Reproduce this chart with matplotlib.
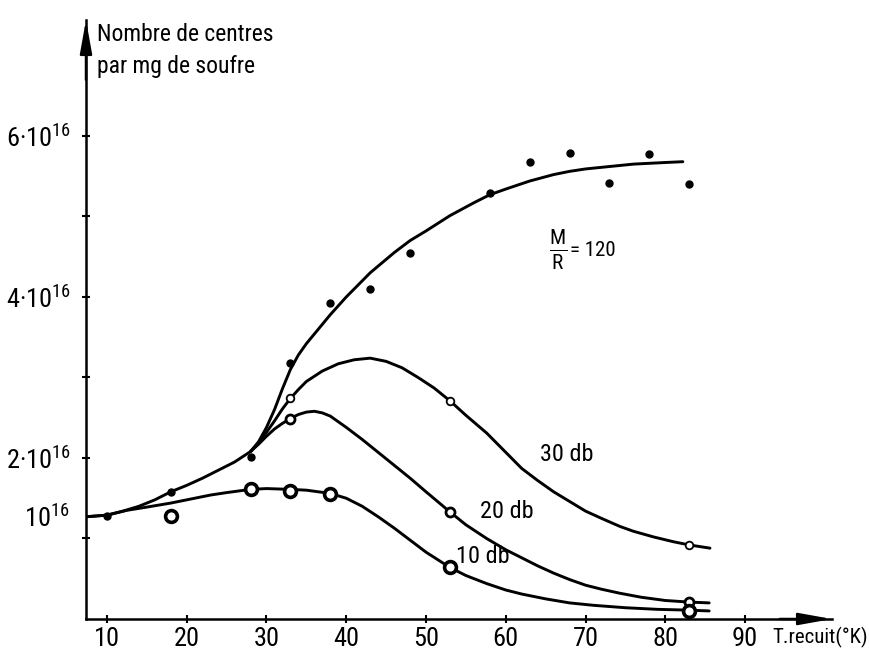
import matplotlib
matplotlib.use('Agg')
import matplotlib.pyplot as plt
from matplotlib import font_manager as fm

# ---- choose a condensed sans font if one is installed ----
_fonts = fm.fontManager.ttflist
_names = {f.name for f in _fonts}
FAMILY, STRETCH, NARROW = 'Liberation Sans', 'normal', False
for cand in ['Liberation Sans Narrow', 'Roboto Condensed', 'Open Sans Condensed',
             'Noto Sans Condensed', 'DejaVu Sans Condensed']:
    if cand in _names:
        FAMILY, NARROW = cand, True
        break
if not NARROW:
    for f in _fonts:
        if str(f.stretch) in ('condensed', 'semi-condensed', 'extra-condensed') and \
                'Sans' in f.name and 'Mono' not in f.name and 'CJK' not in f.name:
            FAMILY, STRETCH, NARROW = f.name, f.stretch, True
            break
if FAMILY not in _names:
    FAMILY = 'DejaVu Sans'

plt.rcParams['font.family'] = [FAMILY, 'DejaVu Sans']
plt.rcParams['font.stretch'] = STRETCH
plt.rcParams['mathtext.fontset'] = 'custom'
_spec = FAMILY if STRETCH == 'normal' else f'{FAMILY}:stretch={STRETCH}'
plt.rcParams['mathtext.rm'] = _spec
plt.rcParams['mathtext.it'] = _spec
plt.rcParams['mathtext.bf'] = _spec

if NARROW:
    FS_TICK, FS_TITLE, FS_XLAB, FS_DB, FS_EQ, FS_FRAC = 19, 17, 15, 17.5, 15, 22
else:
    FS_TICK, FS_TITLE, FS_XLAB, FS_DB, FS_EQ, FS_FRAC = 15.5, 15, 12.5, 15, 13, 20

# ---- data (centres per mg of sulphur, in units of 1e16) ----
# measured points
t_mr120 = [10, 18, 28, 33, 38, 43, 48, 58, 63, 68, 73, 78, 83]
n_mr120 = [1.28, 1.58, 2.01, 3.18, 3.93, 4.10, 4.55, 5.29, 5.68, 5.79, 5.42, 5.77, 5.40]
t_30db = [33, 53, 83]
n_30db = [2.75, 2.71, 0.92]
t_20db = [33, 53, 83]
n_20db = [2.49, 1.33, 0.21]
t_10db = [18, 28, 33, 38, 53, 83]
n_10db = [1.28, 1.62, 1.59, 1.55, 0.65, 0.10]

# hand-drawn curves
curve_mr120_t = [7.4, 10, 12, 14, 16, 18, 20, 22, 24, 26, 28, 29, 30, 31, 32, 33, 34, 35, 36, 38,
                 40, 43, 46, 48, 50, 53, 56, 58, 60, 63, 66, 68, 70, 73, 76, 78, 80, 82.2]
curve_mr120_n = [1.27, 1.29, 1.34, 1.40, 1.48, 1.58, 1.66, 1.75, 1.85, 1.95, 2.08, 2.20, 2.38, 2.60,
                 2.86, 3.10, 3.28, 3.42, 3.54, 3.78, 4.00, 4.30, 4.55, 4.70, 4.82, 5.01, 5.17, 5.27,
                 5.34, 5.44, 5.52, 5.56, 5.59, 5.62, 5.65, 5.66, 5.67, 5.68]
curve_30db_t = [28, 29, 30, 31, 32, 33, 34, 35, 37, 39, 41, 43, 45, 47, 49, 51, 53, 55, 57.6, 60,
                62, 64, 66, 68, 70, 72, 74.3, 76, 78.5, 81, 83, 85.6]
curve_30db_n = [2.08, 2.19, 2.32, 2.46, 2.61, 2.74, 2.85, 2.95, 3.08, 3.17, 3.22, 3.24, 3.20, 3.12,
                3.00, 2.87, 2.71, 2.53, 2.31, 2.07, 1.87, 1.72, 1.58, 1.46, 1.34, 1.25, 1.15, 1.09,
                1.02, 0.96, 0.92, 0.88]
curve_20db_t = [28, 29, 30, 31, 32, 33, 34, 35, 36, 37, 38, 40, 42, 44, 46, 48, 50, 53, 55, 57.6,
                60, 62, 64, 66, 68, 70, 72, 74.3, 77, 80, 83, 85.5]
curve_20db_n = [2.08, 2.17, 2.27, 2.36, 2.43, 2.49, 2.54, 2.57, 2.58, 2.56, 2.52, 2.38, 2.23, 2.07,
                1.91, 1.75, 1.58, 1.33, 1.17, 1.00, 0.86, 0.76, 0.66, 0.57, 0.49, 0.42, 0.37, 0.32,
                0.27, 0.23, 0.21, 0.20]
curve_10db_t = [7.4, 10, 12.5, 15, 18, 20, 23, 25, 28, 30, 33, 35, 38, 40, 42, 44, 46, 48, 50, 53,
                55, 57.6, 60, 62, 65, 68, 71, 75, 79, 83, 85.5]
curve_10db_n = [1.27, 1.29, 1.35, 1.39, 1.44, 1.48, 1.54, 1.57, 1.61, 1.62, 1.61, 1.60, 1.56, 1.50,
                1.40, 1.27, 1.13, 0.98, 0.83, 0.64, 0.54, 0.44, 0.36, 0.31, 0.25, 0.20, 0.17, 0.14,
                0.12, 0.11, 0.10]

x_ticks = [10, 20, 30, 40, 50, 60, 70, 80, 90]
x_tick_labels = ['10', '20', '30', '40', '50', '60', '70', '80', '90']
y_ticks = [1, 2, 3, 4, 5, 6]
y_tick_labels = ['', '2·10$^{16}$', '', '4·10$^{16}$', '', '6·10$^{16}$']

# ---- figure ----
W, H = 870, 653
fig = plt.figure(figsize=(W / 100, H / 100), dpi=100)
fig.patch.set_facecolor('white')
ax = fig.add_axes([86 / W, 34 / H, 746 / W, 599 / H])
ax.set_xlim(7.37, 100.9)
ax.set_ylim(0, 7.44)

for s in ['top', 'right']:
    ax.spines[s].set_visible(False)
for s in ['left', 'bottom']:
    ax.spines[s].set_linewidth(1.8)

ax.set_xticks(x_ticks)
ax.set_xticklabels(x_tick_labels, fontsize=FS_TICK)
ax.set_yticks(y_ticks)
ax.set_yticklabels(y_tick_labels, fontsize=FS_TICK)
ax.tick_params(axis='x', direction='inout', length=6, width=1.5, pad=3)
ax.tick_params(axis='y', direction='inout', length=6, width=1.5, pad=8)

# 10^16 label sits a little above its tick
ax.annotate('10$^{16}$', xy=(0, 1.0), xycoords=('axes fraction', 'data'),
            xytext=(-16, 20), textcoords='offset pixels', ha='right', va='center',
            fontsize=FS_TICK)

# axis arrows
arrow = dict(arrowstyle='-|>,head_length=1.0,head_width=0.18', color='black', lw=1.8,
             shrinkA=0, shrinkB=0, mutation_scale=20)
ax.annotate('', xy=(0, 1), xytext=(0, 0.9), xycoords='axes fraction', arrowprops=arrow)
ax.annotate('', xy=(1, 0), xytext=(0.93, 0), xycoords='axes fraction', arrowprops=arrow)

lw = 2.1
for ct, cn in [(curve_mr120_t, curve_mr120_n), (curve_30db_t, curve_30db_n),
               (curve_20db_t, curve_20db_n), (curve_10db_t, curve_10db_n)]:
    ax.plot(ct, cn, color='black', lw=lw, solid_capstyle='round', solid_joinstyle='round')

ax.plot(t_mr120, n_mr120, 'o', color='black', ms=5, zorder=5)
ax.plot(t_30db, n_30db, 'o', mfc='white', mec='black', mew=1.3, ms=5.5, zorder=5)
ax.plot(t_20db, n_20db, 'o', mfc='white', mec='black', mew=2.0, ms=6.5, zorder=5)
ax.plot(t_10db, n_10db, 'o', mfc='white', mec='black', mew=2.6, ms=8.5, zorder=5)

# curve labels
ax.text(64.3, 2.04, '30 db', fontsize=FS_DB, ha='left', va='center')
ax.text(56.8, 1.33, '20 db', fontsize=FS_DB, ha='left', va='center')
ax.text(53.8, 0.78, '10 db', fontsize=FS_DB, ha='left', va='center')

ax.text(66.6, 4.58, r'$\frac{\mathrm{M}}{\mathrm{R}}$', fontsize=FS_FRAC, ha='center', va='center')
ax.text(68.0, 4.58, '= 120', fontsize=FS_EQ, ha='left', va='center')

# axis titles
fig.text(97 / W, 1 - 41 / H, 'Nombre de centres', fontsize=FS_TITLE, ha='left', va='baseline')
fig.text(97 / W, 1 - 73 / H, 'par mg de soufre', fontsize=FS_TITLE, ha='left', va='baseline')
ax.annotate('T.recuit(°K)', xy=(93.4, 0), xycoords=('data', 'axes fraction'),
            xytext=(0, -18), textcoords='offset pixels', ha='left', va='center',
            fontsize=FS_XLAB)

fig.savefig('out.png', dpi=100, facecolor='white')
